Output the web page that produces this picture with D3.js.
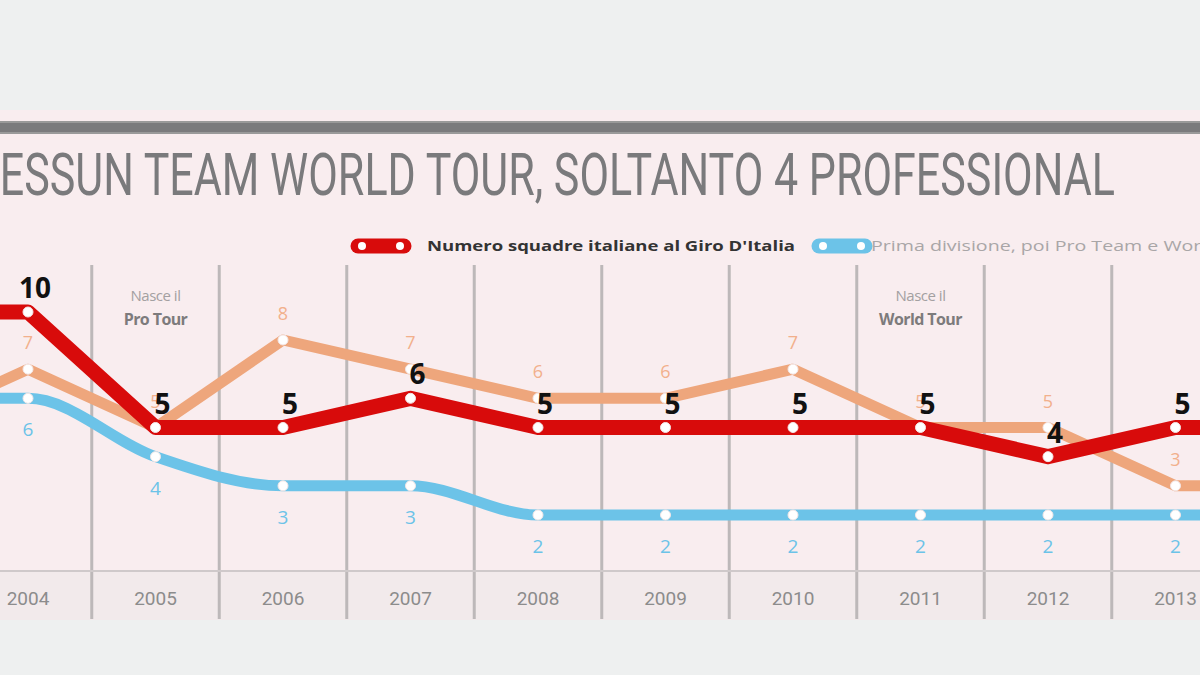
<!DOCTYPE html>
<html>
<head>
<meta charset="utf-8">
<script src="https://cdn.jsdelivr.net/npm/d3@7"></script>
<style>
  body { margin: 0; background: #eef0f0; }
  svg { display: block; }
</style>
</head>
<body>
<div id="main"></div>
<script>
// anni (il 2003 e il 2014 restano fuori dal ritaglio)
var years = [2003, 2004, 2005, 2006, 2007, 2008, 2009, 2010, 2011, 2012, 2013, 2014];
var italianTeams = [10, 10, 5, 5, 6, 5, 5, 5, 5, 4, 5, 5];
var secondDivision = [5, 7, 5, 8, 7, 6, 6, 7, 5, 5, 3, 3];
var firstDivision = [6, 6, 4, 3, 3, 2, 2, 2, 2, 2, 2, 2];
var notes = [
    {year: 2005, line1: 'Nasce il', line2: 'Pro Tour'},
    {year: 2011, line1: 'Nasce il', line2: 'World Tour'}
];
var titleText = 'NESSUN TEAM WORLD TOUR, SOLTANTO 4 PROFESSIONAL';
var legendItems = [
    {label: "Numero squadre italiane al Giro D'Italia", color: '#d80b0b'},
    {label: 'Prima divisione, poi Pro Team e World Tour', color: '#6cc3e8'}
];

var width = 1200, height = 675;
var svg = d3.select('#main').append('svg')
    .attr('width', width)
    .attr('height', height);

var red = '#d80b0b', orange = '#eea67c', blue = '#6cc3e8';

// sfondo
svg.append('rect').attr('x', 0).attr('y', 0).attr('width', width).attr('height', height).attr('fill', '#eef0f0');
svg.append('rect').attr('x', 0).attr('y', 110).attr('width', width).attr('height', 510).attr('fill', '#f9edef');
svg.append('rect').attr('x', 0).attr('y', 571).attr('width', width).attr('height', 49).attr('fill', '#f2eaeb');
svg.append('rect').attr('x', 0).attr('y', 121).attr('width', width).attr('height', 13).attr('fill', '#9a9a9a');
svg.append('rect').attr('x', 0).attr('y', 123).attr('width', width).attr('height', 9).attr('fill', '#7b7b7d');

// titolo
svg.append('text')
    .attr('x', -31)
    .attr('y', 195)
    .attr('textLength', 1146)
    .attr('lengthAdjust', 'spacingAndGlyphs')
    .style('font-family', 'Roboto, sans-serif')
    .style('font-size', '60px')
    .style('fill', '#7a7a7c')
    .text(titleText);

var xScale = d3.scalePoint().domain(years).range([-99.5, 1303]);
var yScale = d3.scaleLinear().domain([2, 8, 10]).range([515, 340, 312]);

// griglia verticale
var chartG = svg.append('g');
chartG.selectAll('.vline')
    .data(years.slice(1))
    .enter()
    .append('line')
    .attr('class', 'vline')
    .attr('x1', function(d, i) { return (xScale(years[i]) + xScale(d)) / 2; })
    .attr('x2', function(d, i) { return (xScale(years[i]) + xScale(d)) / 2; })
    .attr('y1', 265)
    .attr('y2', 619)
    .attr('stroke', '#bdb8b9')
    .attr('stroke-width', 3);

chartG.append('line')
    .attr('x1', 0).attr('x2', width)
    .attr('y1', 571).attr('y2', 571)
    .attr('stroke', '#cfc9ca')
    .attr('stroke-width', 2);

// anni
chartG.selectAll('.year')
    .data(years)
    .enter()
    .append('text')
    .attr('class', 'year')
    .attr('x', function(d) { return xScale(d); })
    .attr('y', 605)
    .attr('text-anchor', 'middle')
    .style('font-family', 'Roboto, sans-serif')
    .style('font-size', '19px')
    .style('fill', '#8c8c8c')
    .text(function(d) { return d; });

// note
var noteG = chartG.selectAll('.note')
    .data(notes)
    .enter()
    .append('g')
    .attr('class', 'note');
noteG.append('text')
    .attr('x', function(d) { return xScale(d.year); })
    .attr('y', 301)
    .attr('text-anchor', 'middle')
    .style('font-family', 'Open Sans, sans-serif')
    .style('font-size', '15px')
    .style('letter-spacing', '-0.5px')
    .style('fill', '#a3a0a1')
    .text(function(d) { return d.line1; });
noteG.append('text')
    .attr('x', function(d) { return xScale(d.year); })
    .attr('y', 325)
    .attr('text-anchor', 'middle')
    .style('font-family', 'Open Sans, sans-serif')
    .style('font-size', '16px')
    .style('font-weight', 'bold')
    .style('letter-spacing', '-0.6px')
    .style('fill', '#7d7b7c')
    .text(function(d) { return d.line2; });

function drawSeries(values, color, strokeW, curve) {
    var line = d3.line()
        .x(function(d, i) { return xScale(years[i]); })
        .y(function(d) { return yScale(d); })
        .curve(curve);
    chartG.append('path')
        .datum(values)
        .attr('d', line)
        .attr('fill', 'none')
        .attr('stroke', color)
        .attr('stroke-width', strokeW)
        .attr('stroke-linejoin', 'round');
    chartG.append('g').selectAll('circle')
        .data(values)
        .enter()
        .append('circle')
        .attr('cx', function(d, i) { return xScale(years[i]); })
        .attr('cy', function(d) { return yScale(d); })
        .attr('r', 5)
        .attr('fill', '#ffffff')
        .attr('stroke', '#f3e6e6')
        .attr('stroke-width', 1);
}

drawSeries(firstDivision, blue, 11, d3.curveMonotoneX);
drawSeries(secondDivision, orange, 11, d3.curveLinear);
drawSeries(italianTeams, red, 15, d3.curveLinear);

// etichette valori
chartG.append('g').selectAll('text')
    .data(firstDivision)
    .enter()
    .append('text')
    .attr('x', function(d, i) { return xScale(years[i]); })
    .attr('y', function(d) { return yScale(d) + 38; })
    .attr('text-anchor', 'middle')
    .style('font-family', 'Open Sans, sans-serif')
    .style('font-size', '19px')
    .style('fill', blue)
    .text(function(d) { return d; });

chartG.append('g').selectAll('text')
    .data(secondDivision)
    .enter()
    .append('text')
    .attr('x', function(d, i) { return xScale(years[i]); })
    .attr('y', function(d) { return yScale(d) - 20; })
    .attr('text-anchor', 'middle')
    .style('font-family', 'Open Sans, sans-serif')
    .style('font-size', '18px')
    .style('fill', '#f2b08c')
    .text(function(d) { return d; });

chartG.append('g').selectAll('text')
    .data(italianTeams)
    .enter()
    .append('text')
    .attr('x', function(d, i) { return xScale(years[i]) + 7; })
    .attr('y', function(d) { return yScale(d) - 14; })
    .attr('text-anchor', 'middle')
    .style('font-family', 'Open Sans, sans-serif')
    .style('font-size', '28px')
    .style('font-weight', 'bold')
    .style('fill', '#111111')
    .text(function(d) { return d; });

// legenda
var legendX = [358, 819];
var textX = [427, 871];
var textW = [368, 395];
var leg = svg.append('g').selectAll('g')
    .data(legendItems)
    .enter()
    .append('g');
leg.append('line')
    .attr('x1', function(d, i) { return legendX[i]; })
    .attr('x2', function(d, i) { return legendX[i] + 46; })
    .attr('y1', 246).attr('y2', 246)
    .attr('stroke', function(d) { return d.color; })
    .attr('stroke-width', 15)
    .attr('stroke-linecap', 'round');
leg.append('circle')
    .attr('cx', function(d, i) { return legendX[i] + 4; })
    .attr('cy', 246).attr('r', 4).attr('fill', '#ffffff');
leg.append('circle')
    .attr('cx', function(d, i) { return legendX[i] + 42; })
    .attr('cy', 246).attr('r', 4).attr('fill', '#ffffff');
leg.append('text')
    .attr('x', function(d, i) { return textX[i]; })
    .attr('y', 251)
    .attr('textLength', function(d, i) { return textW[i]; })
    .attr('lengthAdjust', 'spacingAndGlyphs')
    .style('font-family', 'Open Sans, sans-serif')
    .style('font-size', '15px')
    .style('font-weight', function(d, i) { return i == 0 ? 'bold' : 'normal'; })
    .style('fill', function(d, i) { return i == 0 ? '#333333' : '#a9a6a7'; })
    .text(function(d) { return d.label; });
</script>
</body>
</html>
